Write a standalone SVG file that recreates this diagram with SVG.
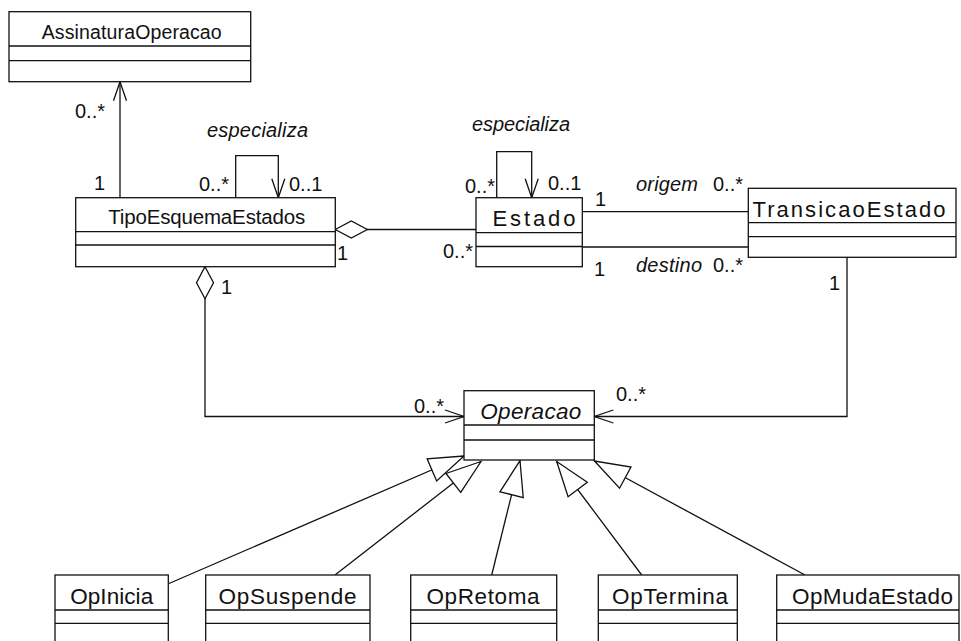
<svg xmlns="http://www.w3.org/2000/svg" width="961" height="641" viewBox="0 0 961 641">
  <style>
    .box { fill: #fff; stroke: #111; stroke-width: 1.3; }
    .div { stroke: #111; stroke-width: 1.3; }
    .edge { fill: none; stroke: #111; stroke-width: 1.3; }
    .name { font-family: "Liberation Sans", Arial, sans-serif; fill: #111; text-anchor: middle; }
    .lbl { font-family: "Liberation Sans", Arial, sans-serif; font-size: 20px; fill: #111; }
    .it { font-style: italic; }
  </style>
  <defs>
    <!-- open arrowhead for navigable association ends -->
    <marker id="open" viewBox="-22 -10 24 20" refX="0" refY="0" markerWidth="24" markerHeight="20" markerUnits="userSpaceOnUse" orient="auto">
      <path d="M-19,-6.5 L0,0 L-19,6.5" fill="none" stroke="#111" stroke-width="1.3"/>
    </marker>
    <!-- hollow diamond for aggregation ends -->
    <marker id="agg" viewBox="-2 -10 36 20" refX="0" refY="0" markerWidth="36" markerHeight="20" markerUnits="userSpaceOnUse" orient="auto">
      <path d="M0,0 L16,-8.5 L32,0 L16,8.5 Z" fill="#fff" stroke="#111" stroke-width="1.3"/>
    </marker>
    <!-- hollow triangle for generalization -->
    <marker id="gen" viewBox="-38 -15 40 30" refX="0" refY="0" markerWidth="40" markerHeight="30" markerUnits="userSpaceOnUse" orient="auto">
      <path d="M0,0 L-35,-12 L-35,12 Z" fill="#fff" stroke="#111" stroke-width="1.3"/>
    </marker>
  </defs>

  <rect width="961" height="641" fill="#fff"/>

  <!-- connectors -->
  <g id="connectors">
    <path class="edge" d="M120,197.7 V81.7" marker-end="url(#open)"/>
    <path class="edge" d="M235.7,197.7 V155.7 H278.3 V197.7" marker-end="url(#open)"/>
    <path class="edge" d="M496.7,197.7 V151.7 H531.7 V197.7" marker-end="url(#open)"/>
    <path class="edge" d="M335.3,229.5 H476" marker-start="url(#agg)"/>
    <path class="edge" d="M582.3,211.7 H748.3"/>
    <path class="edge" d="M582.3,247 H748.3"/>
    <path class="edge" d="M205,266.7 V416.5 H464" marker-start="url(#agg)" marker-end="url(#open)"/>
    <path class="edge" d="M847,257.3 V416.5 H594.3" marker-end="url(#open)"/>
    <path class="edge" d="M169,583.5 L464,456" marker-end="url(#gen)"/>
    <path class="edge" d="M335,575 L481,461.5" marker-end="url(#gen)"/>
    <path class="edge" d="M491.7,575 L520,460.7" marker-end="url(#gen)"/>
    <path class="edge" d="M641.7,575 L556.7,461.5" marker-end="url(#gen)"/>
    <path class="edge" d="M805,575 L594.5,461" marker-end="url(#gen)"/>
  </g>

  <!-- association labels and multiplicities -->
  <g id="labels">
    <text class="lbl" x="75" y="118">0..*</text>
    <text class="lbl" x="94" y="190">1</text>
    <text class="lbl it" x="257.5" y="137" text-anchor="middle" textLength="101" lengthAdjust="spacing">especializa</text>
    <text class="lbl" x="229" y="191" text-anchor="end">0..*</text>
    <text class="lbl" x="289" y="191">0..1</text>
    <text class="lbl" x="337" y="260">1</text>
    <text class="lbl it" x="521" y="131" text-anchor="middle" textLength="98" lengthAdjust="spacing">especializa</text>
    <text class="lbl" x="495" y="193" text-anchor="end">0..*</text>
    <text class="lbl" x="548" y="190">0..1</text>
    <text class="lbl" x="595" y="206">1</text>
    <text class="lbl it" x="636" y="191" textLength="62" lengthAdjust="spacing">origem</text>
    <text class="lbl" x="743" y="191" text-anchor="end">0..*</text>
    <text class="lbl" x="473" y="258" text-anchor="end">0..*</text>
    <text class="lbl" x="594" y="276">1</text>
    <text class="lbl it" x="636" y="272" textLength="66" lengthAdjust="spacing">destino</text>
    <text class="lbl" x="743" y="272" text-anchor="end">0..*</text>
    <text class="lbl" x="829" y="290">1</text>
    <text class="lbl" x="221" y="294">1</text>
    <text class="lbl" x="414" y="413">0..*</text>
    <text class="lbl" x="616" y="401">0..*</text>
  </g>

  <!-- classes -->
  <g id="AssinaturaOperacao">
    <rect class="box" x="9" y="11.7" width="241.7" height="70"/>
    <line class="div" x1="9" y1="46" x2="250.7" y2="46"/>
    <line class="div" x1="9" y1="60.7" x2="250.7" y2="60.7"/>
    <text class="name" x="131.7" y="38.5" font-size="19.5" textLength="180" lengthAdjust="spacing">AssinaturaOperacao</text>
  </g>

  <g id="TipoEsquemaEstados">
    <rect class="box" x="75.7" y="197.7" width="259.6" height="69"/>
    <line class="div" x1="75.7" y1="231.7" x2="335.3" y2="231.7"/>
    <line class="div" x1="75.7" y1="245" x2="335.3" y2="245"/>
    <text class="name" x="206.7" y="224" font-size="20.5" textLength="197" lengthAdjust="spacing">TipoEsquemaEstados</text>
  </g>

  <g id="Estado">
    <rect class="box" x="476" y="197.7" width="106.3" height="69"/>
    <line class="div" x1="476" y1="232.7" x2="582.3" y2="232.7"/>
    <line class="div" x1="476" y1="246.5" x2="582.3" y2="246.5"/>
    <text class="name" x="534" y="225.5" font-size="22" textLength="83" lengthAdjust="spacing">Estado</text>
  </g>

  <g id="TransicaoEstado">
    <rect class="box" x="748.3" y="188.3" width="207.7" height="69"/>
    <line class="div" x1="748.3" y1="222.7" x2="956" y2="222.7"/>
    <line class="div" x1="748.3" y1="236.7" x2="956" y2="236.7"/>
    <text class="name" x="849" y="217" font-size="22" textLength="193" lengthAdjust="spacing">TransicaoEstado</text>
  </g>

  <g id="Operacao">
    <rect class="box" x="464" y="390.7" width="130.3" height="69.3"/>
    <line class="div" x1="464" y1="425" x2="594.3" y2="425"/>
    <line class="div" x1="464" y1="440" x2="594.3" y2="440"/>
    <text class="name it" x="530.8" y="419" font-size="22.5" textLength="101" lengthAdjust="spacing">Operacao</text>
  </g>

  <g id="OpInicia">
    <rect class="box" x="55" y="575" width="113.3" height="90"/>
    <line class="div" x1="55" y1="610" x2="168.3" y2="610"/>
    <line class="div" x1="55" y1="623.3" x2="168.3" y2="623.3"/>
    <text class="name" x="111.7" y="604" font-size="22.5" textLength="83" lengthAdjust="spacing">OpInicia</text>
  </g>

  <g id="OpSuspende">
    <rect class="box" x="205.7" y="575" width="164.3" height="90"/>
    <line class="div" x1="205.7" y1="610" x2="370" y2="610"/>
    <line class="div" x1="205.7" y1="623.3" x2="370" y2="623.3"/>
    <text class="name" x="287.5" y="604" font-size="22.5" textLength="138" lengthAdjust="spacing">OpSuspende</text>
  </g>

  <g id="OpRetoma">
    <rect class="box" x="410.7" y="575" width="146" height="90"/>
    <line class="div" x1="410.7" y1="610" x2="556.7" y2="610"/>
    <line class="div" x1="410.7" y1="623.3" x2="556.7" y2="623.3"/>
    <text class="name" x="483" y="604" font-size="22.5" textLength="113" lengthAdjust="spacing">OpRetoma</text>
  </g>

  <g id="OpTermina">
    <rect class="box" x="598.3" y="575" width="139" height="90"/>
    <line class="div" x1="598.3" y1="610" x2="737.3" y2="610"/>
    <line class="div" x1="598.3" y1="623.3" x2="737.3" y2="623.3"/>
    <text class="name" x="670" y="604" font-size="22.5" textLength="116" lengthAdjust="spacing">OpTermina</text>
  </g>

  <g id="OpMudaEstado">
    <rect class="box" x="776.7" y="575" width="182.3" height="90"/>
    <line class="div" x1="776.7" y1="610" x2="959" y2="610"/>
    <line class="div" x1="776.7" y1="623.3" x2="959" y2="623.3"/>
    <text class="name" x="872.5" y="604" font-size="22.5" textLength="161" lengthAdjust="spacing">OpMudaEstado</text>
  </g>
</svg>
